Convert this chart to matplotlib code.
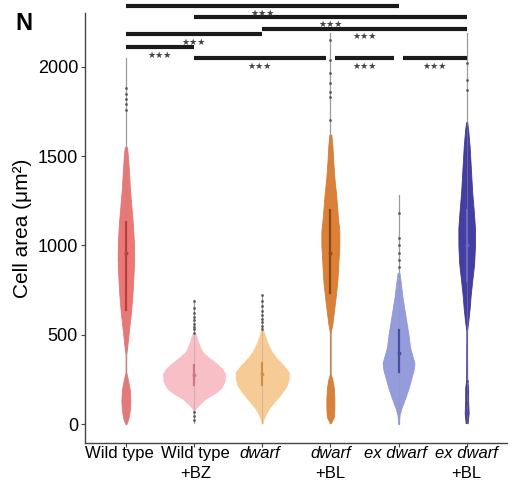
import numpy as np
import matplotlib
matplotlib.use('Agg')
import matplotlib.pyplot as plt

plt.rcParams['font.family'] = ['Liberation Sans', 'DejaVu Sans']

# Gruppen und Beschriftungen (Text, kursiv?)
label_lines = [
    [('Wild type', False)],
    [('Wild type', False), ('+BZ', False)],
    [('dwarf', True)],
    [('dwarf', True), ('+BL', False)],
    [('ex dwarf', True)],
    [('ex dwarf', True), ('+BL', False)],
]
fill_colors = ['#e8716f', '#f8bcc3', '#f7c991', '#d9792b', '#8e97db', '#3a339d']
box_colors = ['#b8403f', '#c77b86', '#d38c55', '#8a4a1a', '#4a4f9a', '#6b66c0']

# Violin-Profile: Zellfläche (µm²) und relative Breite
wt_y = [0, 30, 80, 130, 190, 250, 290, 390, 440, 520, 620, 720, 820, 920, 1020, 1120, 1220, 1320, 1420, 1500, 1550]
wt_w = [0.5, 2.5, 4, 4.5, 4, 2, 0.3, 0.3, 1.5, 3, 5, 6.5, 7.5, 8.3, 8, 7, 5.5, 4, 3, 2, 1.2]
wtbz_y = [70, 90, 110, 140, 170, 200, 240, 280, 310, 340, 370, 400, 430, 460, 490, 510]
wtbz_w = [0.3, 2, 5, 11, 20, 27, 30.5, 31, 28, 22, 15, 9, 6, 4, 2.5, 1]
dw_y = [5, 30, 60, 90, 130, 170, 210, 250, 290, 330, 370, 410, 450, 490, 525]
dw_w = [0.3, 1.5, 4, 7, 13, 19, 24, 26.5, 26.5, 21, 14, 9, 5.5, 3, 1]
dwbl_y = [5, 40, 90, 140, 200, 250, 280, 510, 560, 650, 720, 800, 900, 1000, 1080, 1160, 1270, 1380, 1460, 1560, 1620]
dwbl_w = [0.5, 3.5, 4, 4, 3.5, 2, 0.3, 0.3, 2, 4, 5.5, 7, 8, 9, 9, 7.5, 6, 4, 3, 2, 1]
ex_y = [0, 50, 90, 150, 200, 250, 300, 340, 380, 430, 500, 570, 640, 710, 780, 845]
ex_w = [0.3, 1, 3, 7, 10, 12.5, 15, 16, 14, 11.5, 10, 8, 6, 4, 2.5, 1]
exbl_y = [5, 60, 130, 200, 250, 520, 570, 650, 720, 800, 900, 1000, 1100, 1200, 1300, 1450, 1550, 1650, 1690]
exbl_w = [1, 2, 1.5, 1.5, 0.5, 0.3, 1.5, 3, 4, 5.5, 7.5, 8.3, 8.3, 7, 5.5, 4, 3, 1.5, 0.5]
profiles = [(wt_y, wt_w), (wtbz_y, wtbz_w), (dw_y, dw_w),
            (dwbl_y, dwbl_w), (ex_y, ex_w), (exbl_y, exbl_w)]

# Minimum / Maximum und Ausreißer
y_min = [0, 6, 5, 5, 0, 5]
y_max = [2050, 694, 722, 2190, 1282, 2190]
outliers = [
    [1760, 1790, 1820, 1850, 1880],
    [20, 45, 70, 510, 530, 545, 560, 580, 600, 620, 650, 690],
    [530, 550, 570, 590, 610, 630, 660, 690, 720],
    [1700, 1830, 1860, 1910, 1965, 2040, 2150],
    [880, 920, 960, 1000, 1040, 1180],
    [20, 60, 120, 180, 240, 1870, 1925, 2020],
]
# Interquartilbereich und Median
q1 = [638, 218, 218, 734, 291, 800]
q3 = [1131, 330, 341, 1198, 526, 1200]
median = [960, 274, 280, 960, 400, 1000]

# Signifikanzbalken: (Gruppe links, Gruppe rechts, Höhe)
comparisons = [(0, 4, 2342), (1, 5, 2280), (2, 5, 2213), (0, 2, 2182),
               (0, 1, 2111), (1, 3, 2048), (3, 4, 2048), (4, 5, 2048)]

width_scale = 1 / 68.2

fig = plt.figure(figsize=(5.12, 4.82), dpi=100)
ax = fig.add_axes([0.166, 0.081, 0.824, 0.892])

for i, (ys, ws) in enumerate(profiles):
    ys = np.array(ys)
    ws = np.array(ws) * width_scale
    ax.plot([i, i], [y_min[i], y_max[i]], color='#9a9a9a', lw=0.9, zorder=1)
    ax.fill_betweenx(ys, i - ws, i + ws, facecolor=fill_colors[i],
                     edgecolor=fill_colors[i], lw=0.6, alpha=0.95, zorder=2)
    ax.plot([i, i], [y_min[i], y_max[i]], color='#a0a0a0', lw=0.5, alpha=0.6, zorder=3)
    ax.plot([i, i], [q1[i], q3[i]], color=box_colors[i], lw=1.6, zorder=4)
    ax.plot(i, median[i], 'o', ms=1.8, color=box_colors[i], zorder=5)
    ax.plot([i] * len(outliers[i]), outliers[i], 'o', ms=1.1, color='#555555',
            alpha=0.8, zorder=5)

# Balken und Sterne
for a, b, h in comparisons:
    left, right = a, b
    for a2, b2, h2 in comparisons:
        if h2 == h and b2 == a:
            left = a + 0.07
        if h2 == h and a2 == b:
            right = b - 0.07
    ax.plot([left, right], [h, h], color='#1a1a1a', lw=3, solid_capstyle='butt', clip_on=False)
    ax.text((left + right) / 2, h - 20, '★★★', ha='center', va='top',
            fontsize=6.5, color='#444444', family='DejaVu Sans', clip_on=False)

ax.set_xlim(-0.6, 5.59)
ax.set_ylim(-106, 2301)
ax.set_yticks([0, 500, 1000, 1500, 2000])
ax.set_xticks(range(6))
ax.set_xticklabels([''] * 6)
ax.tick_params(axis='y', labelsize=13, length=3, color='#444444', pad=2)
ax.tick_params(axis='x', length=3, color='#444444')
for s in ['top', 'right']:
    ax.spines[s].set_visible(False)
for s in ['left', 'bottom']:
    ax.spines[s].set_color('#444444')
    ax.spines[s].set_linewidth(1)
ax.set_ylabel('Cell area (μm²)', fontsize=15, labelpad=4)

label_shift = [-0.095, 0.02, -0.04, 0, -0.05, 0]
for i, lines in enumerate(label_lines):
    for k, (txt, it) in enumerate(lines):
        ax.annotate(txt, xy=(i + label_shift[i], 0), xycoords=('data', 'axes fraction'),
                    xytext=(0, -2 - 14.4 * k), textcoords='offset points',
                    ha='center', va='top', fontsize=12,
                    style='italic' if it else 'normal')

fig.text(0.03, 0.975, 'N', fontsize=17, fontweight='bold', va='top', ha='left')

plt.savefig('out.png', dpi=100)
